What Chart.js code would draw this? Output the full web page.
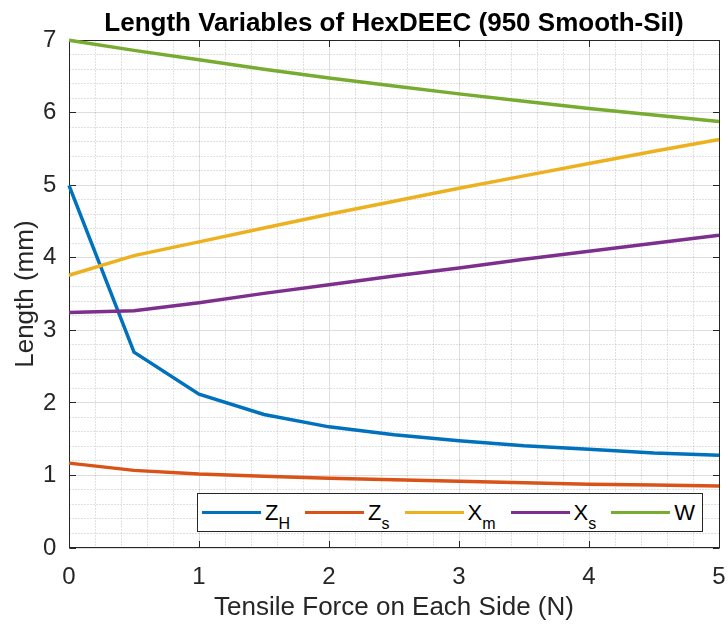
<!DOCTYPE html>
<html><head><meta charset="utf-8">
<script src="https://cdn.jsdelivr.net/npm/chart.js@4"></script>
<style>
html,body{margin:0;padding:0;background:#fff;}
#wrap{position:relative;width:728px;height:628px;}
#legend{position:absolute;box-sizing:border-box;height:39px;border:1px solid #262626;background:#fff;display:flex;align-items:center;padding:0 7px 0 4.5px;font-family:'Liberation Sans',Arial,sans-serif;font-size:22px;color:#000;white-space:nowrap;}
.item{display:flex;align-items:center;margin-right:15px;}
.item:last-child{margin-right:0;}
.swatch{width:59px;height:3.5px;margin-right:4px;}
.lbl{line-height:22px;}
.lbl sub{font-size:16px;vertical-align:-9px;line-height:0;}
</style></head><body>
<div id="wrap"><canvas id="c" width="728" height="628"></canvas><div id="legend"></div></div>
<script>
// ---- data ----
const forces = [0, 0.5, 1, 1.5, 2, 2.5, 3, 3.5, 4, 4.5, 5];
const ZH = [5.00, 2.70, 2.12, 1.84, 1.67, 1.56, 1.48, 1.41, 1.36, 1.31, 1.28];
const Zs = [1.17, 1.07, 1.02, 0.99, 0.96, 0.94, 0.92, 0.90, 0.88, 0.87, 0.855];
const Xm = [3.76, 4.03, 4.22, 4.41, 4.60, 4.78, 4.96, 5.13, 5.30, 5.47, 5.63];
const Xs = [3.245, 3.27, 3.38, 3.51, 3.63, 3.75, 3.86, 3.98, 4.09, 4.20, 4.31];
const W  = [7.00, 6.86, 6.73, 6.60, 6.48, 6.37, 6.26, 6.16, 6.06, 5.97, 5.88];
const seriesMain = ['Z', 'Z', 'X', 'X', 'W'];
const seriesSub  = ['H', 's', 'm', 's', ''];
const seriesValues = [ZH, Zs, Xm, Xs, W];
const colors = ['#0072BD', '#D95319', '#EDB120', '#7E2F8E', '#77AC30'];
const xTicks = [0, 1, 2, 3, 4, 5];
const yTicks = [0, 1, 2, 3, 4, 5, 6, 7];
const minorStep = 0.2;

const FONT = "'Liberation Sans', Arial, sans-serif";
const AX = '#262626';

const datasets = seriesValues.map((vals, i) => ({
  label: seriesMain[i] + seriesSub[i],
  data: forces.map((f, j) => ({x: f, y: vals[j]})),
  borderColor: colors[i],
  backgroundColor: colors[i],
  borderWidth: 3.5,
  pointRadius: 0,
  tension: 0,
  fill: false,
  clip: false,
  order: seriesValues.length - 1 - i
}));

const boxPlugin = {
  id: 'matlabBox',
  beforeDatasetsDraw(chart) {
    const {ctx, chartArea: a, scales: {x, y}} = chart;
    const L = Math.floor(a.left) + 0.5, R = Math.floor(a.right) + 0.5;
    const T = Math.floor(a.top) + 0.5, B = Math.floor(a.bottom) - 0.5;
    ctx.save();
    ctx.strokeStyle = 'rgba(38,38,38,0.28)';
    ctx.lineWidth = 1;
    ctx.setLineDash([1, 2]);
    const isInt = v => Math.abs(v - Math.round(v)) < 1e-6;
    for (let k = 1; x.min + k * minorStep < x.max - 1e-6; k++) {
      const v = x.min + k * minorStep;
      if (isInt(v)) continue;
      const px = Math.floor(x.getPixelForValue(v)) + 0.5;
      ctx.beginPath(); ctx.moveTo(px, T); ctx.lineTo(px, B); ctx.stroke();
    }
    for (let k = 1; y.min + k * minorStep < y.max - 1e-6; k++) {
      const v = y.min + k * minorStep;
      if (isInt(v)) continue;
      const py = Math.floor(y.getPixelForValue(v)) + 0.5;
      ctx.beginPath(); ctx.moveTo(L, py); ctx.lineTo(R, py); ctx.stroke();
    }
    ctx.setLineDash([]);
    ctx.strokeStyle = AX;
    ctx.lineWidth = 1;
    ctx.strokeRect(L, T, R - L, B - T);
    const tl = 6.5;
    ctx.beginPath();
    xTicks.forEach(v => {
      const px = Math.floor(x.getPixelForValue(v)) + 0.5;
      ctx.moveTo(px, B); ctx.lineTo(px, B - tl);
      ctx.moveTo(px, T); ctx.lineTo(px, T + tl);
    });
    yTicks.forEach(v => {
      const py = Math.floor(y.getPixelForValue(v)) + 0.5;
      ctx.moveTo(L, py); ctx.lineTo(L + tl, py);
      ctx.moveTo(R, py); ctx.lineTo(R - tl, py);
    });
    ctx.stroke();
    ctx.restore();
  }
};

const chart = new Chart(document.getElementById('c'), {
  type: 'line',
  data: {datasets},
  options: {
    responsive: false,
    animation: false,
    devicePixelRatio: 1,
    layout: {padding: {left: 0, right: 9, top: 0, bottom: 0}},
    plugins: {
      legend: {display: false},
      tooltip: {enabled: false},
      title: {
        display: true,
        fullSize: false,
        text: 'Length Variables of HexDEEC (950 Smooth-Sil)',
        color: '#000',
        font: {family: FONT, size: 26, weight: 'bold'},
        padding: {top: 8, bottom: 1}
      }
    },
    scales: {
      x: {
        type: 'linear', min: 0, max: 5,
        afterFit(s) { s.height = 80; s.paddingLeft = 0; s.paddingRight = 0; },
        afterBuildTicks(s) { s.ticks = xTicks.map(v => ({value: v})); },
        ticks: {color: AX, font: {family: FONT, size: 24}, padding: 15, maxRotation: 0},
        grid: {color: '#dedede', drawTicks: false, lineWidth: 1},
        border: {display: false},
        title: {display: true, text: 'Tensile Force on Each Side (N)', color: AX,
                font: {family: FONT, size: 26}, padding: {top: 0, bottom: 4.4}}
      },
      y: {
        type: 'linear', min: 0, max: 7,
        afterFit(s) { s.width = 69; s.paddingTop = 0; s.paddingBottom = 0; },
        afterBuildTicks(s) { s.ticks = yTicks.map(v => ({value: v})); },
        ticks: {color: AX, font: {family: FONT, size: 24}, padding: 12.6},
        grid: {color: '#dedede', drawTicks: false, lineWidth: 1},
        border: {display: false},
        title: {display: true, text: 'Length (mm)', color: AX,
                font: {family: FONT, size: 26}, padding: {top: 10.2, bottom: 0}}
      }
    }
  },
  plugins: [boxPlugin]
});

const lg = document.getElementById('legend');
seriesMain.forEach((m, i) => {
  const it = document.createElement('div');
  it.className = 'item';
  const sw = document.createElement('span');
  sw.className = 'swatch';
  sw.style.background = colors[i];
  const lb = document.createElement('span');
  lb.className = 'lbl';
  lb.textContent = m;
  if (seriesSub[i]) {
    const sb = document.createElement('sub');
    sb.textContent = seriesSub[i];
    lb.appendChild(sb);
  }
  it.appendChild(sw); it.appendChild(lb);
  lg.appendChild(it);
});
const a = chart.chartArea;
lg.style.right = (chart.width - a.right + 16) + 'px';
lg.style.bottom = (chart.height - a.bottom + 16) + 'px';
</script>
</body></html>
